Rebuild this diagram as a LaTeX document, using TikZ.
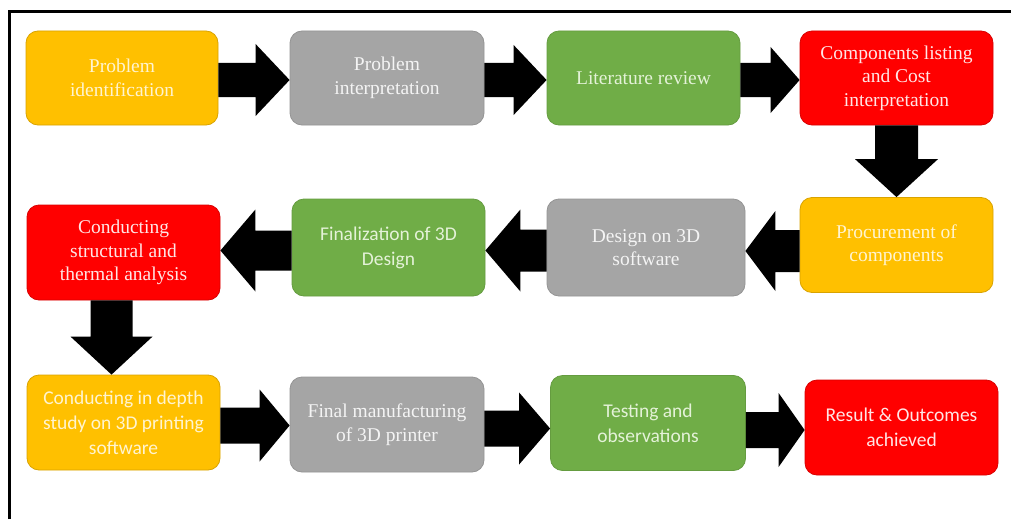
\documentclass[tikz,border=0pt]{standalone}
\usepackage{fontspec}
\setmainfont{Liberation Serif}
\newfontfamily\calib{Carlito}
\usetikzlibrary{calc}
\definecolor{cyel}{HTML}{FFC000}
\definecolor{cgry}{HTML}{A5A5A5}
\definecolor{cgrn}{HTML}{70AD47}
\definecolor{cred}{HTML}{FF0000}
\definecolor{tyel}{HTML}{FFF4D0}
\definecolor{tgry}{HTML}{F4F4F4}
\definecolor{tgrn}{HTML}{E4F2D8}
\definecolor{tred}{HTML}{FFE6E6}
\newcommand\bkR[5]{\fill[black] let \p1=(#1), \p2=(#2) in
  (\x1,\y1+#3) -- (\x2-#5,\y1+#3) -- (\x2-#5,\y1+#4) -- (\x2,\y1) --
  (\x2-#5,\y1-#4) -- (\x2-#5,\y1-#3) -- (\x1,\y1-#3) -- cycle;}
\newcommand\bkL[5]{\fill[black] let \p1=(#1), \p2=(#2) in
  (\x1,\y1+#3) -- (\x2+#5,\y1+#3) -- (\x2+#5,\y1+#4) -- (\x2,\y1) --
  (\x2+#5,\y1-#4) -- (\x2+#5,\y1-#3) -- (\x1,\y1-#3) -- cycle;}
\newcommand\bkD[5]{\fill[black] let \p1=(#1), \p2=(#2) in
  (\x1-#3,\y1) -- (\x1-#3,\y2+#5) -- (\x1-#4,\y2+#5) -- (\x1,\y2) --
  (\x1+#4,\y2+#5) -- (\x1+#3,\y2+#5) -- (\x1+#3,\y1) -- cycle;}
\tikzset{
  box/.style={rounded corners=12pt, align=center, inner sep=2pt,
    minimum width=193pt, minimum height=95pt, line width=0.8pt},
  serif/.style={font=\fontsize{19.5}{23.5}\selectfont},
  sans/.style={font=\calib\fontsize{19.5}{25}\selectfont},
  yel/.style={box, fill=cyel, draw=cyel!85!black, text=tyel},
  gry/.style={box, fill=cgry, draw=cgry!90!black, text=tgry},
  grn/.style={box, fill=cgrn, draw=cgrn!90!black, text=tgrn},
  red/.style={box, fill=cred, draw=cred!85!black, text=tred},
}
\begin{document}
\begin{tikzpicture}[x=1pt,y=-1pt]
\useasboundingbox (0,0) rectangle (1011,519);
\fill[white] (0,0) rectangle (1011,519);
\draw[line width=3pt] (9.5,519) -- (9.5,11.5) -- (1011,11.5);

\node[yel,serif,minimum width=192pt,minimum height=94pt] (b1) at (122,78) {Problem\\identification};
\node[gry,serif,minimum width=194pt,minimum height=94pt] (b2) at (387,78) {Problem\\interpretation};
\node[grn,serif,minimum height=94pt] (b3) at (643.5,78) {Literature review};
\node[red,serif,minimum height=94pt] (b4) at (896.5,78) {Components listing\\and Cost\\interpretation};

\node[yel,serif] (b5) at (896.5,245) {Procurement of\\components};
\node[gry,serif,minimum width=198pt,minimum height=97pt] (b6) at (646,247.5) {Design on 3D\\software};
\node[grn,sans,minimum height=97pt] (b7) at (388.5,247.5) {Finalization of 3D\\Design};
\node[red,serif] (b8) at (123.5,252.5) {Conducting\\structural and\\thermal analysis};

\node[yel,sans] (b9) at (123.5,422.5) {Conducting in depth\\study on 3D printing\\software};
\node[gry,serif,minimum width=194pt] (b10) at (387,424.5) {Final manufacturing\\of 3D printer};
\node[grn,sans,minimum width=195pt] (b11) at (648,423) {Testing and\\observations};
\node[red,sans] (b12) at (901.5,427.5) {Result \& Outcomes\\achieved};

\bkR{$(b1.east)+(0,2)$}{b2.west}{17pt}{36pt}{34pt}
\bkR{$(b2.east)+(0,2)$}{b3.west}{17pt}{35pt}{33pt}
\bkR{$(b3.east)+(0,2)$}{b4.west}{17pt}{33pt}{29pt}
\bkD{b4.south}{b5.north}{21.5pt}{41.5pt}{38pt}
\bkL{$(b5.west)+(0,6)$}{b6.east}{21pt}{40pt}{30pt}
\bkL{$(b6.west)+(0,3)$}{b7.east}{21pt}{41pt}{35pt}
\bkL{$(b7.west)+(0,3)$}{b8.east}{20pt}{41pt}{35pt}
\bkD{$(b8.south)+(-12,0)$}{$(b9.north)+(-12,0)$}{21pt}{41pt}{38pt}
\bkR{$(b9.east)+(0,3)$}{b10.west}{18pt}{36pt}{30pt}
\bkR{$(b10.east)+(0,4)$}{b11.west}{18pt}{36pt}{31pt}
\bkR{$(b11.east)+(0,7)$}{b12.west}{18pt}{37pt}{26pt}
\end{tikzpicture}
\end{document}
